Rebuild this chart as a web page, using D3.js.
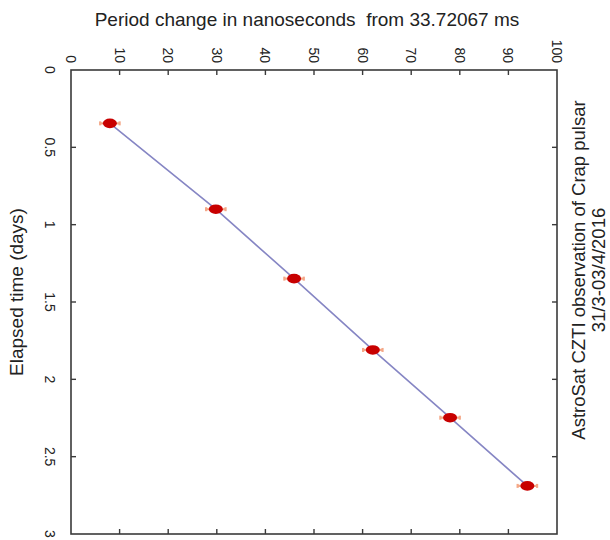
<!DOCTYPE html>
<html><head><meta charset="utf-8">
<script src="https://cdn.jsdelivr.net/npm/d3@7"></script>
<style>body{margin:0;background:#fff}svg{display:block;font-family:"Liberation Sans",Arial,sans-serif}text{white-space:pre}</style>
</head><body><svg id="c" width="610" height="540"></svg>
<script>
const elapsedDays = [0.345, 0.90, 1.349, 1.81, 2.248, 2.689];
const periodChangeNs = [8.0, 29.8, 45.9, 62.1, 78.0, 93.9];
const periodErrNs = [2, 2, 2, 2, 2, 2];
const xTicks = [0,10,20,30,40,50,60,70,80,90,100];
const yTicks = [0,0.5,1,1.5,2,2.5,3];
const yTickLabels = ["0","0.5","1","1.5","2","2.5","3"];
const titleTop = "Period change in nanoseconds  from 33.72067 ms";
const titleLeft = "Elapsed time (days)";
const titleRight = ["AstroSat CZTI observation of Crap pulsar", "31/3-03/4/2016"];

const svg = d3.select("#c");
const L = 71, R = 557, T = 70, B = 534;
const x = d3.scaleLinear().domain([0,100]).range([L,R]);
const y = d3.scaleLinear().domain([0,3]).range([T,B]);
const frame = "#3a3a3a";

svg.append("rect").attr("x",L).attr("y",T).attr("width",R-L).attr("height",B-T)
  .attr("fill","none").attr("stroke",frame).attr("stroke-width",1.6);

const tl = 5;
const g = svg.append("g").attr("stroke",frame).attr("stroke-width",1.4);
xTicks.slice(1,-1).forEach(v=>{
  g.append("line").attr("x1",x(v)).attr("x2",x(v)).attr("y1",T).attr("y2",T+tl);
  g.append("line").attr("x1",x(v)).attr("x2",x(v)).attr("y1",B).attr("y2",B-tl);
});
yTicks.slice(1,-1).forEach(v=>{
  g.append("line").attr("y1",y(v)).attr("y2",y(v)).attr("x1",L).attr("x2",L+tl);
  g.append("line").attr("y1",y(v)).attr("y2",y(v)).attr("x1",R).attr("x2",R-tl);
});

xTicks.forEach(v=>{
  svg.append("text").attr("transform",`translate(${x(v)},63) rotate(90)`)
    .attr("text-anchor","end").attr("dy","0.35em").attr("font-size",14).attr("fill","#222").text(v);
});
yTicks.forEach((v,i)=>{
  svg.append("text").attr("transform",`translate(50,${y(v)}) rotate(90)`)
    .attr("text-anchor","middle").attr("dy","0.35em").attr("font-size",14).attr("fill","#222").text(yTickLabels[i]);
});

svg.append("text").attr("x",307).attr("y",26).attr("text-anchor","middle").attr("font-size",19).attr("fill","#222").text(titleTop);
svg.append("text").attr("transform",`translate(23,292) rotate(-90)`).attr("text-anchor","middle").attr("font-size",19).attr("fill","#222").text(titleLeft);
titleRight.forEach((t,i)=>{
  svg.append("text").attr("transform",`translate(${585+i*20},270) rotate(-90)`).attr("text-anchor","middle").attr("font-size",18.5).attr("fill","#222").text(t);
});

const pts = elapsedDays.map((d,i)=>({d, p:periodChangeNs[i], e:periodErrNs[i]}));

svg.append("path").datum(pts).attr("fill","none").attr("stroke","#8686c4").attr("stroke-width",1.6)
  .attr("d", d3.line().x(o=>x(o.p)).y(o=>y(o.d)));

const eg = svg.append("g").attr("stroke","#f4a888").attr("stroke-width",2.2);
pts.forEach(o=>{
  eg.append("line").attr("x1",x(o.p-o.e)).attr("x2",x(o.p+o.e)).attr("y1",y(o.d)).attr("y2",y(o.d));
  eg.append("line").attr("x1",x(o.p-o.e)).attr("x2",x(o.p-o.e)).attr("y1",y(o.d)-2).attr("y2",y(o.d)+2);
  eg.append("line").attr("x1",x(o.p+o.e)).attr("x2",x(o.p+o.e)).attr("y1",y(o.d)-2).attr("y2",y(o.d)+2);
});
svg.append("g").selectAll("ellipse").data(pts).join("ellipse")
  .attr("cx",o=>x(o.p)).attr("cy",o=>y(o.d)).attr("rx",7).attr("ry",4.8).attr("fill","#c80000");
</script></body></html>
